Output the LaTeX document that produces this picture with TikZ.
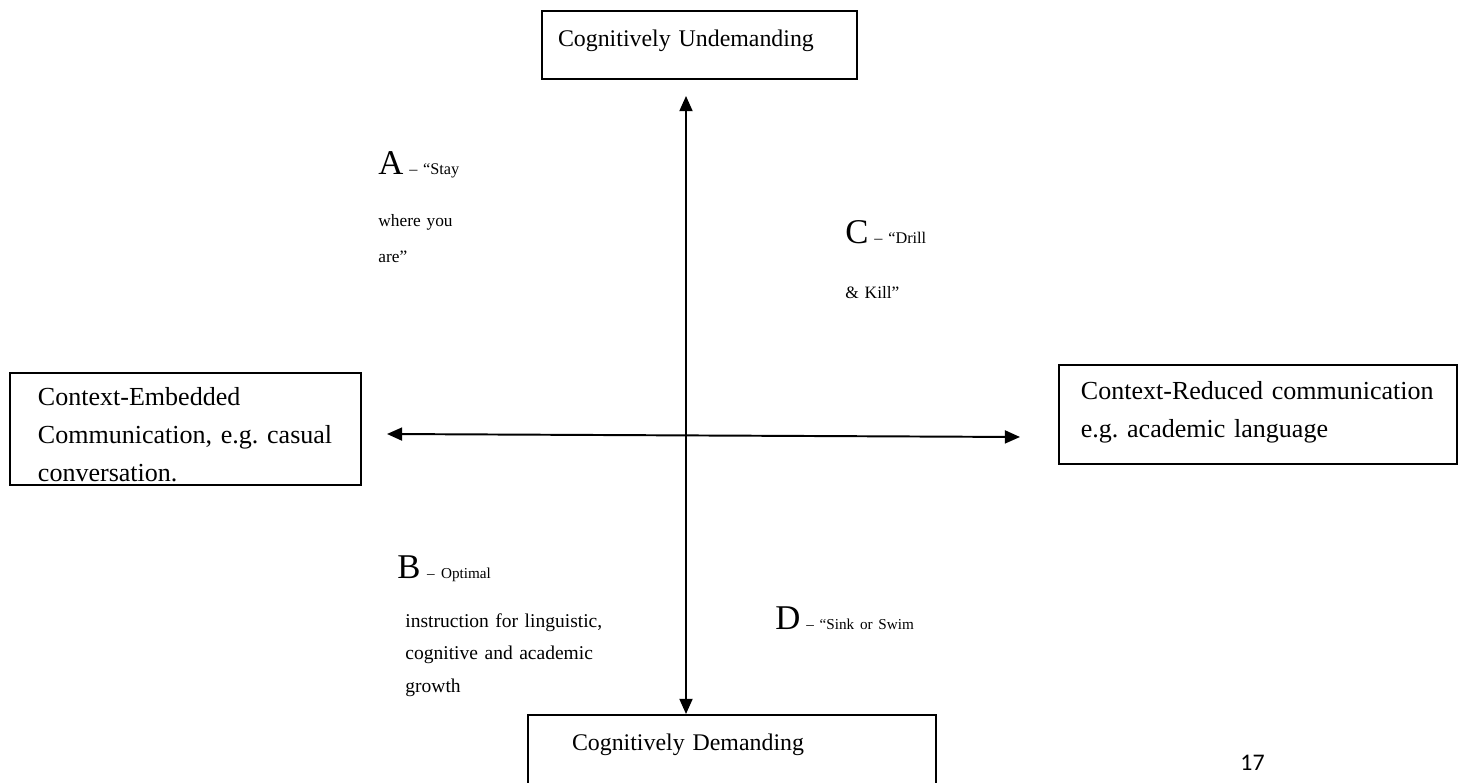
\documentclass[tikz,border=0pt]{standalone}
\usepackage{fontspec}
\setmainfont{Liberation Serif}
\newfontfamily\pagefont{Carlito}
\usetikzlibrary{arrows.meta}

\newcommand{\bigletter}[1]{{\fontsize{16}{16}\selectfont #1}}
\newcommand{\dashtext}[1]{{\fontsize{7.5}{9}\selectfont #1}}
\frenchspacing

\begin{document}
\begin{tikzpicture}[x=0.461pt, y=-0.461pt,
	quadbox/.style={draw, line width=0.9pt, anchor=north west, inner sep=0pt,
		align=left, font=\fontsize{12}{17.5}\selectfont},
	quadlabel/.style={anchor=base west, inner sep=0pt, align=left,
		font=\fontsize{8}{16.6}\selectfont},
	axisarrow/.style={{Triangle[width=6pt,length=7pt]}-{Triangle[width=6pt,length=7pt]},
		line width=0.9pt}
	]
	
	%Page
	\clip (0,0) rectangle (1465,783);
	
	%Boxes
	\node[quadbox, font=\fontsize{11}{16}\selectfont, text width=145.2pt,
	text height=16.6pt, text depth=14.8pt]
	(undemand) at (541,10) {\hspace*{7.4pt}Cognitively Undemanding};
	\node[quadbox, text width=161.8pt, text height=15.2pt, text depth=36.5pt]
	(embedded) at (9,372) {\hspace*{12.9pt}Context-Embedded\\
		\hspace*{12.9pt}Communication, e.g. casual\\
		\hspace*{12.9pt}conversation.};
	\node[quadbox, text width=183.5pt, text height=16.1pt, text depth=29.5pt]
	(reduced) at (1058,364) {\hspace*{10.1pt}Context-Reduced communication\\
		\hspace*{10.1pt}e.g. academic language};
	\node[quadbox, font=\fontsize{11}{16}\selectfont, text width=188.1pt,
	text height=16.6pt, text depth=23.1pt]
	(demand) at (527,714) {\hspace*{20.3pt}Cognitively Demanding};
	
	%Axes
	\coordinate (vtop) at (686,96);
	\draw[axisarrow] (vtop) -- (vtop |- demand.north);
	\coordinate (hleft) at (387,434);
	\coordinate (hright) at (1020,437);
	\draw[axisarrow] (hleft) -- (hright);
	
	%Quadrant labels
	\node[quadlabel, text width=60pt] (stay) at (378,175)
	{\bigletter{A} \dashtext{– “Stay}\\[7.3pt]where you\\are”};
	\node[quadlabel, text width=60pt] (drill) at (845,244)
	{\bigletter{C} \dashtext{– “Drill}\\[8.7pt]\& Kill”};
	\node[quadlabel, text width=110pt, font=\fontsize{9}{15}\selectfont] (optimal) at (405,578)
	{\hspace*{-3.7pt}\bigletter{B} {\fontsize{7}{9}\selectfont – Optimal}\\[7.6pt]instruction for linguistic,\\
		cognitive and academic\\growth};
	\node[quadlabel, text width=110pt] (swim) at (775,629)
	{\bigletter{D} {\fontsize{7}{9}\selectfont – “Sink or Swim}};
	
	%Page number
	\node[anchor=base west, inner sep=0pt, font=\pagefont\fontsize{11}{13}\selectfont]
	(pagenum) at (1240,770) {17};
	
\end{tikzpicture}
\end{document}
